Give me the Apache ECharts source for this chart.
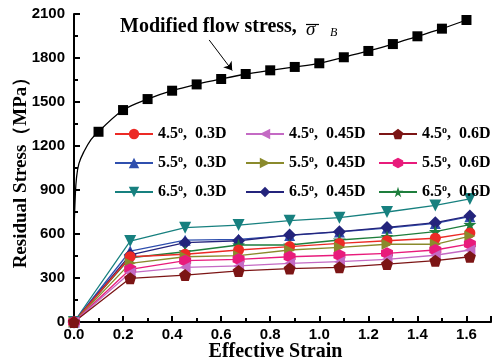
<!DOCTYPE html>
<html>
<head>
<meta charset="utf-8">
<script src="https://cdn.jsdelivr.net/npm/echarts@6/dist/echarts.min.js"></script>
<style>
  html, body { margin: 0; padding: 0; background: #fff; }
  #chart { width: 492px; height: 361px; }
</style>
</head>
<body>
<div id="chart"></div>
<script>
// strain positions of the residual stress points
var strains = [0, 0.229, 0.453, 0.671, 0.879, 1.082, 1.276, 1.473, 1.614];

// residual stress (MPa)
var r45_03  = [0, 445, 462, 491, 514, 536, 554, 571, 607];
var r45_045 = [0, 336, 373, 382, 400, 411, 427, 455, 491];
var r45_06  = [0, 298, 320, 348, 364, 373, 395, 418, 445];
var r55_03  = [0, 484, 558, 564, 590, 614, 640, 672, 718];
var r55_045 = [0, 400, 445, 452, 491, 509, 530, 530, 586];
var r55_06  = [0, 359, 418, 427, 445, 455, 468, 491, 532];
var r65_03  = [0, 552, 643, 661, 691, 711, 750, 795, 839];
var r65_045 = [0, 457, 541, 554, 593, 616, 645, 677, 723];
var r65_06  = [0, 438, 479, 525, 525, 559, 582, 616, 664];

// modified flow stress curve
var flowStrain = [0.1, 0.2, 0.3, 0.4, 0.5, 0.6, 0.7, 0.8, 0.9, 1.0, 1.1, 1.2, 1.3, 1.4, 1.5, 1.6];
var flowStress = [1297, 1445, 1520, 1577, 1620, 1657, 1691, 1716, 1739, 1764, 1805, 1848, 1895, 1948, 2000, 2059];
// steep start of the curve (no markers)
var flowStartStrain = [0, 0.005, 0.01, 0.02, 0.04, 0.07, 0.1];
var flowStartStress = [620, 850, 980, 1080, 1160, 1245, 1297];

var xTicks = [0, 0.2, 0.4, 0.6, 0.8, 1.0, 1.2, 1.4, 1.6];
var yTicks = [0, 300, 600, 900, 1200, 1500, 1800, 2100];

function pairs(xs, ys) {
  return xs.map(function (x, i) { return [x, ys[i]]; });
}

var shapes = {
  left: 'path://M0,5 L10,0 L10,10 Z',
  right: 'path://M10,5 L0,0 L0,10 Z',
  down: 'path://M0,0 L10,0 L5,9 Z',
  pentagon: 'path://M5,0 L10,3.8 L8.1,10 L1.9,10 L0,3.8 Z',
  hexagon: 'path://M5,0 L9.3,2.5 L9.3,7.5 L5,10 L0.7,7.5 L0.7,2.5 Z',
  star: 'path://M5,0 L6.2,3.6 L10,3.6 L6.9,5.9 L8.1,9.5 L5,7.3 L1.9,9.5 L3.1,5.9 L0,3.6 L3.8,3.6 Z'
};

function stressSeries(name, values, color, symbol, size) {
  return {
    name: name,
    type: 'line',
    data: pairs(strains, values),
    symbol: symbol,
    symbolSize: size || 11,
    showAllSymbol: true,
    lineStyle: { color: color, width: 1.3 },
    itemStyle: { color: color },
    z: 3
  };
}

var serif = '"Liberation Serif", "Times New Roman", serif';
var sans = '"Liberation Sans", Arial, sans-serif';

function legendCol(left, names) {
  return {
    orient: 'vertical',
    left: left,
    top: 120,
    itemGap: 12,
    itemWidth: 38,
    itemHeight: 13,
    data: names,
    formatter: function (n) { return n.replace('°', '{s|o}'); },
    textStyle: {
      fontFamily: serif, fontWeight: 'bold', fontSize: 16, color: '#000', lineHeight: 14,
      rich: { s: { fontFamily: serif, fontWeight: 'bold', fontSize: 10, padding: [0, 0, 8, 0] } }
    }
  };
}

var chart = echarts.init(document.getElementById('chart'));
chart.setOption({
  animation: false,
  grid: { left: 74, right: 1, top: 14, bottom: 39, containLabel: false, outerBoundsMode: 'none' },
  legend: [
    legendCol(109, ['4.5°,  0.3D', '5.5°,  0.3D', '6.5°,  0.3D']),
    legendCol(240, ['4.5°,  0.45D', '5.5°,  0.45D', '6.5°,  0.45D']),
    legendCol(373, ['4.5°,  0.6D', '5.5°,  0.6D', '6.5°,  0.6D'])
  ],
  xAxis: {
    type: 'value',
    min: 0,
    max: 1.7,
    interval: 0.2,
    name: 'Effective Strain',
    nameLocation: 'middle',
    nameGap: 22,
    nameMoveOverlap: false,
    nameTextStyle: { fontFamily: serif, fontWeight: 'bold', fontSize: 20, lineHeight: 16, color: '#000', padding: [0, 14, 0, 0] },
    axisLine: { onZero: false, lineStyle: { color: '#000', width: 2 } },
    axisTick: { inside: true, length: 6, lineStyle: { color: '#000', width: 2 } },
    minorTick: { show: true, splitNumber: 2, length: 4, lineStyle: { color: '#000', width: 2 } },
    splitLine: { show: false },
    axisLabel: {
      margin: 5, showMaxLabel: false,
      fontFamily: sans, fontWeight: 'bold', fontSize: 15, color: '#000',
      formatter: function (v) { return xTicks.indexOf(Math.round(v * 10) / 10) >= 0 ? v.toFixed(1) : ''; }
    }
  },
  yAxis: {
    type: 'value',
    min: 0,
    max: 2100,
    interval: 300,
    name: 'Residual Stress（MPa）',
    nameLocation: 'middle',
    nameGap: 43,
    nameMoveOverlap: false,
    nameTextStyle: { fontFamily: serif, fontWeight: 'bold', fontSize: 19, color: '#000' },
    axisLine: { show: true, lineStyle: { color: '#000', width: 2 } },
    axisTick: { inside: true, length: 6, lineStyle: { color: '#000', width: 2 } },
    minorTick: { show: true, splitNumber: 2, length: 4, lineStyle: { color: '#000', width: 2 } },
    splitLine: { show: false },
    axisLabel: {
      margin: 9,
      fontFamily: sans, fontWeight: 'bold', fontSize: 15, color: '#000',
      formatter: function (v) { return yTicks.indexOf(v) >= 0 ? String(v) : ''; }
    }
  },
  graphic: [
    { type: 'text', left: 120, top: 17, style: { text: 'Modified flow stress,', fontFamily: serif, fontWeight: 'bold', fontSize: 20, fill: '#000' } },
    { type: 'text', left: 306, top: 20, style: { text: 'σ', fontFamily: serif, fontStyle: 'italic', fontSize: 19, fill: '#000' } },
    { type: 'line', shape: { x1: 306, y1: 24.5, x2: 319, y2: 24.5 }, style: { stroke: '#000', lineWidth: 1.2 } },
    { type: 'text', left: 330, top: 27, style: { text: 'B', fontFamily: serif, fontStyle: 'italic', fontSize: 12, fill: '#000' } }
  ],
  series: [
    {
      name: 'flowStart',
      type: 'line',
      data: pairs(flowStartStrain, flowStartStress),
      smooth: 0.4,
      symbol: 'none',
      lineStyle: { color: '#000', width: 1.3 },
      z: 2
    },
    {
      name: 'flow',
      type: 'line',
      data: pairs(flowStrain, flowStress),
      smooth: 0.3,
      symbol: 'rect',
      symbolSize: 10,
      lineStyle: { color: '#000', width: 1.3 },
      itemStyle: { color: '#000' },
      z: 2,
      markLine: {
        silent: true,
        symbol: ['none', 'arrow'],
        symbolSize: 8,
        label: { show: false },
        lineStyle: { color: '#000', type: 'solid', width: 1 },
        data: [[{ coord: [0.551, 1923] }, { coord: [0.645, 1715] }]]
      }
    },
    stressSeries('6.5°,  0.3D', r65_03, '#17807f', shapes.down, 12),
    stressSeries('5.5°,  0.3D', r55_03, '#2f4fae', 'triangle', 11),
    stressSeries('6.5°,  0.45D', r65_045, '#24247c', 'diamond', 13),
    stressSeries('6.5°,  0.6D', r65_06, '#1e7e3c', shapes.star, 13),
    stressSeries('4.5°,  0.3D', r45_03, '#ec2a25', 'circle', 11),
    stressSeries('5.5°,  0.45D', r55_045, '#8a8a2c', shapes.right, 11),
    stressSeries('5.5°,  0.6D', r55_06, '#e81b7b', shapes.hexagon, 12),
    stressSeries('4.5°,  0.45D', r45_045, '#c46ac4', shapes.left, 11),
    stressSeries('4.5°,  0.6D', r45_06, '#7c1515', shapes.pentagon, 12)
  ]
});
</script>
</body>
</html>
